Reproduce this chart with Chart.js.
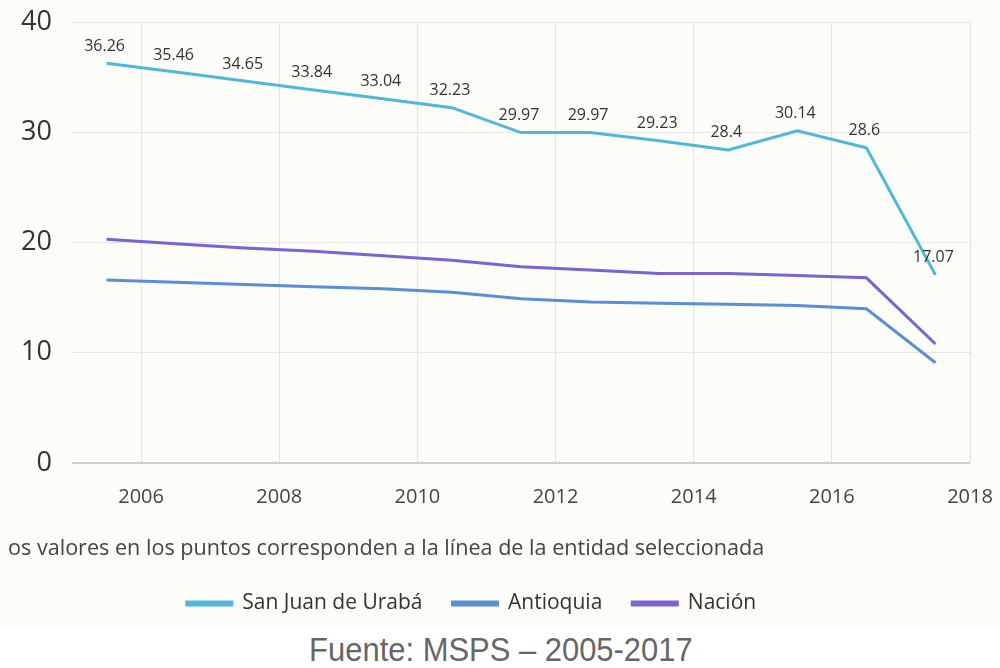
<!DOCTYPE html>
<html>
<head>
<meta charset="utf-8">
<script src="https://cdn.jsdelivr.net/npm/chart.js@4"></script>
<style>
  body { margin: 0; background: #fff; }
  #wrap { width: 1000px; height: 630px; background: #fcfcf9; }
  #fuente {
    width: 1000px; height: 38px; text-align: center;
    font-family: "Liberation Sans", Arial, sans-serif; font-size: 34px;
    color: #666; line-height: 38px;
    transform: scaleX(0.91); transform-origin: 510px 0;
  }
</style>
</head>
<body>
<div id="wrap"><canvas id="myChart" width="1000" height="630"></canvas></div>
<div id="fuente">Fuente: MSPS – 2005-2017</div>
<script>
// years are placed mid-interval, like the source chart
const years = [2005.5, 2006.5, 2007.5, 2008.5, 2009.5, 2010.5, 2011.5, 2012.5, 2013.5, 2014.5, 2015.5, 2016.5, 2017.5];
const sanJuan = [36.26, 35.46, 34.65, 33.84, 33.04, 32.23, 29.97, 29.97, 29.23, 28.4, 30.14, 28.6, 17.07];
const antioquia = [16.6, 16.4, 16.2, 16.0, 15.8, 15.5, 14.9, 14.6, 14.5, 14.4, 14.3, 14.0, 9.1];
const nacion = [20.3, 19.9, 19.5, 19.2, 18.8, 18.4, 17.8, 17.5, 17.2, 17.2, 17.0, 16.8, 10.8];
const yTicks = [0, 10, 20, 30, 40];
const note = "os valores en los puntos corresponden a la línea de la entidad seleccionada";

const toPoints = vals => vals.map((v, i) => ({x: years[i], y: v}));

// value labels on the first line only
const valueLabels = {
  id: 'valueLabels',
  afterDatasetsDraw(chart) {
    const ctx = chart.ctx;
    const meta = chart.getDatasetMeta(0);
    ctx.save();
    ctx.font = '16px "Open Sans"';
    ctx.fillStyle = '#333';
    ctx.textAlign = 'center';
    ctx.textBaseline = 'bottom';
    meta.data.forEach((pt, i) => {
      ctx.fillText(String(sanJuan[i]), pt.x - 2, pt.y - 9);
    });
    ctx.restore();
  }
};

// legend sits a bit left of centre in the original
const legendShift = {
  id: 'legendShift',
  afterLayout(chart) {
    chart.legend.right -= 35;
  }
};

const data = {
  datasets: [
    {label: "San Juan de Urabá", data: toPoints(sanJuan), borderColor: "#4db8d9", backgroundColor: "#4db8d9"},
    {label: "Antioquia", data: toPoints(antioquia), borderColor: "#5b8ed8", backgroundColor: "#5b8ed8"},
    {label: "Nación", data: toPoints(nacion), borderColor: "#7b62d6", backgroundColor: "#7b62d6"},
  ],
};

const config = {
  type: 'line',
  data: data,
  options: {
    responsive: false,
    animation: false,
    layout: {padding: {left: 8, right: 30, top: 22, bottom: 6}},
    elements: {
      line: {borderWidth: 3, tension: 0},
      point: {radius: 0},
    },
    scales: {
      x: {
        type: 'linear',
        min: 2005,
        max: 2018,
        afterBuildTicks: scale => {
          scale.ticks = scale.ticks.filter(t => t.value % 2 === 0);
        },
        afterFit: scale => { scale.paddingLeft = 0; scale.paddingRight = 0; },
        ticks: {
          stepSize: 1,
          padding: 22,
          color: '#444',
          font: {family: 'Open Sans', size: 20},
          callback: v => String(v),
        },
        grid: {color: '#e4e4e4', drawTicks: false},
        border: {display: false},
      },
      y: {
        min: 0,
        max: 40,
        afterBuildTicks: scale => {
          scale.ticks = yTicks.map(v => ({value: v}));
        },
        afterFit: scale => {
          scale.width = 64;
          scale.paddingTop = 0;
          scale.paddingBottom = 0;
        },
        ticks: {
          padding: 20,
          color: '#333',
          font: {family: 'Open Sans', size: 27},
        },
        grid: {
          color: ctx => ctx.tick && ctx.tick.value === 0 ? '#cfcfcf' : '#e6e6e6',
          lineWidth: ctx => ctx.tick && ctx.tick.value === 0 ? 2 : 1,
          drawTicks: false,
        },
        border: {display: false},
      },
    },
    plugins: {
      title: {
        display: true,
        text: note,
        position: 'bottom',
        align: 'start',
        weight: 500,
        color: '#444',
        font: {family: 'Open Sans', size: 21.6, weight: 'normal'},
        padding: {top: 5, bottom: 1},
      },
      legend: {
        position: 'bottom',
        labels: {
          boxWidth: 45,
          boxHeight: 3,
          padding: 30,
          color: '#333',
          font: {family: 'Open Sans', size: 21},
        },
      },
      tooltip: {enabled: false},
    },
  },
  plugins: [valueLabels, legendShift],
};

window.onload = function () {
  const ctx = document.getElementById("myChart");
  new Chart(ctx, config);
};
</script>
</body>
</html>
